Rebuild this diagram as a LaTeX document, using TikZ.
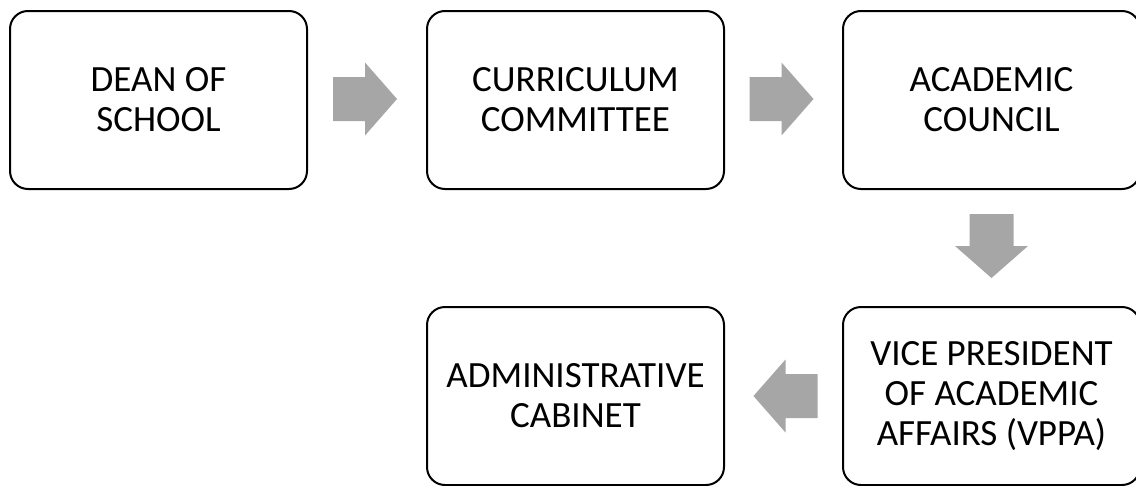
\documentclass[tikz,border=0pt]{standalone}
\usepackage{fontspec}
\setmainfont{Carlito}
\usetikzlibrary{calc}
\definecolor{arrowgray}{HTML}{A6A6A6}
\begin{document}
\begin{tikzpicture}[x=1pt,y=-1pt,
  stepbox/.style={draw=black,line width=2pt,rounded corners=18pt,
    minimum width=297pt,minimum height=178pt,inner sep=0pt,align=center,
    font=\fontsize{37}{40}\selectfont},
  blockarrow/.pic={\fill[arrowgray] (-32,-22) -- (0,-22) -- (0,-36.5) -- (32,0)
    -- (0,36.5) -- (0,22) -- (-32,22) -- cycle;}]
  \clip (0,0) rectangle (1136,485);
  \fill[white] (0,0) rectangle (1136,485);
  % top row
  \node[stepbox] (dean) at (158.5,100) {DEAN OF\\SCHOOL};
  \node[stepbox] (curr) at (575.5,100) {CURRICULUM\\COMMITTEE};
  \node[stepbox] (acad) at (991.5,100) {ACADEMIC\\COUNCIL};
  % bottom row
  \node[stepbox] (vppa) at (991.5,396) {VICE PRESIDENT\\OF ACADEMIC\\AFFAIRS (VPPA)};
  \node[stepbox] (cab)  at (575.5,396) {ADMINISTRATIVE\\CABINET};
  % flow arrows
  \pic at ($(dean.east)!0.5!(curr.west)+(-2,-1)$) {blockarrow};
  \pic at ($(curr.east)!0.5!(acad.west)+(-2,-1)$) {blockarrow};
  \pic[rotate=-90] at ($(acad.south)!0.5!(vppa.north)+(0,-2)$) {blockarrow};
  \pic[rotate=180] at ($(vppa.west)!0.5!(cab.east)+(2,0)$) {blockarrow};
\end{tikzpicture}
\end{document}
